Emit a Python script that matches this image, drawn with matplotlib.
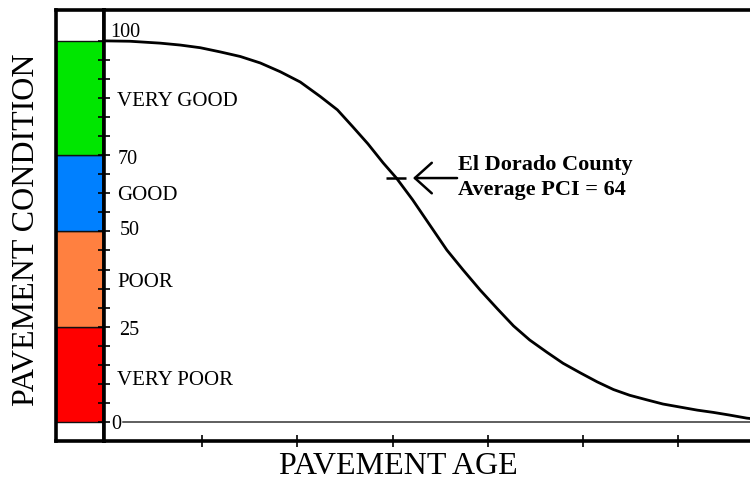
import matplotlib
matplotlib.use('Agg')
import matplotlib.pyplot as plt

plt.rcParams['font.family'] = ['Liberation Serif', 'DejaVu Serif']

# pavement deterioration curve (age units = x tick spacing)
age = [-0.03, 0.24, 0.56, 0.77, 0.98, 1.19, 1.40, 1.61, 1.82, 2.03, 2.24, 2.42,
       2.58, 2.74, 2.90, 3.04, 3.21, 3.39, 3.57, 3.74, 3.92, 4.10, 4.27, 4.44,
       4.62, 4.79, 4.97, 5.15, 5.32, 5.49, 5.67, 5.84, 6.02, 6.20, 6.37, 6.54,
       6.72, 6.86]
pci = [100.0, 99.9, 99.4, 98.9, 98.2, 97.1, 95.9, 94.2, 91.9, 89.2, 85.4, 81.9,
       77.5, 73.0, 68.0, 64.0, 58.3, 51.7, 45.1, 39.9, 34.6, 29.7, 25.2, 21.5,
       18.3, 15.4, 12.9, 10.5, 8.5, 7.0, 5.8, 4.7, 3.9, 3.1, 2.5, 1.8,
       1.0, 0.6]

# condition bands
band_names = ['VERY POOR', 'POOR', 'GOOD', 'VERY GOOD']
band_low = [0, 25, 50, 70]
band_high = [25, 50, 70, 100]
band_colors = ['#ff0000', '#ff8040', '#0080ff', '#00e600']
band_label_y = [11.0, 36.5, 59.4, 84.0]

num_labels = ['100', '70', '50', '25', '0']
num_label_y = [102.2, 68.9, 50.2, 23.9, -0.8]

avg_pci = 64
avg_age = 3.04
x_ticks = [1, 2, 3, 4, 5, 6]

W, H = 750, 482
fig = plt.figure(figsize=(7.5, 4.82), dpi=100)

def box(x0, y0, x1, y1):
    return [x0 / W, 1 - y1 / H, (x1 - x0) / W, (y1 - y0) / H]

ylim = (-5.0, 108.1)
lw_spine = 2.6

# colour scale on the left
axb = fig.add_axes(box(56, 10, 104, 441))
for lo, hi, c in zip(band_low, band_high, band_colors):
    axb.bar(0, hi - lo, bottom=lo, width=1.0, color=c, edgecolor='#111111', linewidth=1.0)
axb.set_xlim(-0.5, 0.5)
axb.set_ylim(*ylim)
axb.set_xticks([])
axb.set_yticks([])
for s in axb.spines.values():
    s.set_linewidth(lw_spine)

# main plot
ax = fig.add_axes(box(104, 10, 790, 441))
ax.set_xlim(-0.0315, 7.174)
ax.set_ylim(*ylim)
for s in ax.spines.values():
    s.set_linewidth(lw_spine)

ax.set_yticks(range(0, 101, 5))
ax.set_yticklabels([])
ax.tick_params(axis='y', direction='inout', length=8, width=1.2, color='black')
ax.set_xticks(x_ticks)
ax.set_xticklabels([])
ax.tick_params(axis='x', direction='inout', length=9, width=1.2, color='black')

ax.axhline(0, xmin=(123 - 104) / 686, xmax=1, color='#333333', linewidth=1.1)

ax.plot(age, pci, color='black', linewidth=2.0, solid_capstyle='round',
        solid_joinstyle='round')

for name, y in zip(band_names, band_label_y):
    ax.annotate(name, xy=(0, y), xycoords=ax.get_yaxis_transform(),
                xytext=(9.4, 0), textcoords='offset points',
                ha='left', va='center', fontsize=15)
for lab, y in zip(num_labels, num_label_y):
    dx = {'100': 4.5, '0': 5.5}.get(lab, 9.5 if lab == '70' else 11)
    ax.annotate(lab, xy=(0, y), xycoords=ax.get_yaxis_transform(),
                xytext=(dx, 0), textcoords='offset points',
                ha='left', va='center', fontsize=14.5)

# average marker and arrow
ax.plot([avg_age], [avg_pci], marker='_', markersize=14, markeredgewidth=1.8, color='black')
ax.annotate('', xy=(3.214, avg_pci), xytext=(3.677, avg_pci),
            arrowprops=dict(arrowstyle='->,head_length=1.0,head_width=0.9',
                            mutation_scale=12.2, linewidth=1.8, color='black',
                            shrinkA=0, shrinkB=0))
ax.text(3.69, 64.2, 'El Dorado County\nAverage PCI = 64', ha='left', va='center',
        fontsize=16, fontweight='bold', linespacing=1.3)

fig.text(398 / W, 1 - 467 / H, 'PAVEMENT AGE', ha='center', va='center', fontsize=23)
fig.text(27 / W, 1 - 230 / H, 'PAVEMENT CONDITION', ha='center', va='center',
         fontsize=23, rotation=90)

fig.savefig('out.png', dpi=100)
